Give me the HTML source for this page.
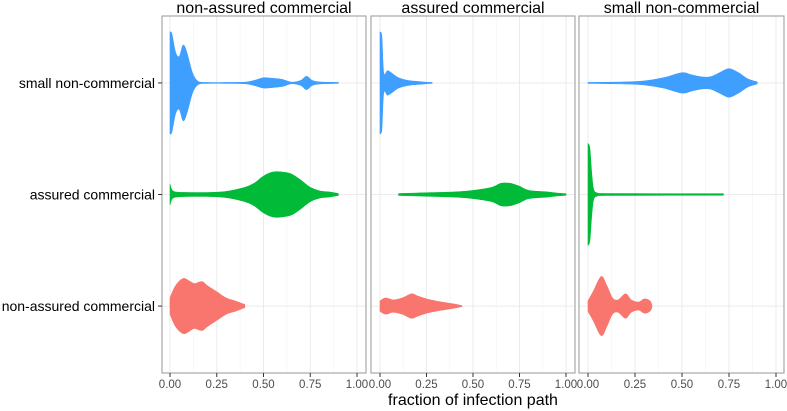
<!DOCTYPE html>
<html><head><meta charset="utf-8">
<style>
html,body{margin:0;padding:0;background:#fff;}
svg{display:block;font-family:"Liberation Sans",Arial,sans-serif;}
</style></head>
<body>
<svg id="chart" width="787" height="411" viewBox="0 0 787 411" xmlns="http://www.w3.org/2000/svg"></svg>
<script>
const panelTitles = ["non-assured commercial","assured commercial","small non-commercial"];
const categories = ["non-assured commercial","assured commercial","small non-commercial"];
const colors = ["#F8766D","#00BA38","#3F9FFF"];
const xTicks = [0,0.25,0.5,0.75,1];
const xTickLabels = ["0.00","0.25","0.50","0.75","1.00"];
// violin profiles: [x positions], [relative half-widths 0..1]
const p1RedX = [0,0.03,0.07,0.1,0.13,0.17,0.2,0.25,0.3,0.35,0.4];
const p1RedW = [0.16,0.4,0.54,0.5,0.44,0.48,0.4,0.28,0.16,0.1,0.03];
const p1GreenX = [0,0.02,0.1,0.2,0.3,0.4,0.45,0.5,0.55,0.6,0.65,0.7,0.75,0.8,0.85,0.9];
const p1GreenW = [0.2,0.06,0.04,0.04,0.06,0.14,0.22,0.36,0.44,0.44,0.4,0.28,0.14,0.07,0.05,0.02];
const p1BlueX = [0,0.01,0.03,0.05,0.07,0.09,0.12,0.15,0.2,0.3,0.4,0.45,0.5,0.55,0.6,0.65,0.7,0.73,0.76,0.8,0.9];
const p1BlueW = [1,0.96,0.6,0.52,0.74,0.6,0.2,0.03,0.01,0.01,0.015,0.05,0.1,0.09,0.07,0.015,0.05,0.13,0.05,0.02,0.01];
const p2RedX = [0,0.03,0.07,0.12,0.17,0.2,0.25,0.3,0.4,0.44];
const p2RedW = [0.1,0.16,0.12,0.16,0.24,0.2,0.14,0.1,0.04,0.01];
const p2GreenX = [0.1,0.2,0.4,0.5,0.6,0.65,0.7,0.75,0.8,0.9,0.95,1.0];
const p2GreenW = [0.02,0.03,0.05,0.08,0.14,0.22,0.22,0.16,0.08,0.05,0.03,0.015];
const p2BlueX = [0,0.01,0.02,0.04,0.06,0.1,0.15,0.2,0.25,0.28];
const p2BlueW = [1,0.9,0.2,0.24,0.2,0.1,0.05,0.03,0.015,0.01];
const p3RedX = [0,0.03,0.07,0.1,0.13,0.16,0.2,0.23,0.27,0.3,0.33,0.34];
const p3RedW = [0.1,0.3,0.58,0.4,0.16,0.12,0.24,0.12,0.08,0.14,0.1,0.02];
const p3GreenX = [0,0.01,0.02,0.03,0.05,0.1,0.72];
const p3GreenW = [1,0.9,0.4,0.1,0.03,0.02,0.015];
const p3BlueX = [0,0.2,0.3,0.4,0.5,0.55,0.6,0.65,0.7,0.75,0.8,0.85,0.9];
const p3BlueW = [0.01,0.02,0.04,0.1,0.2,0.16,0.12,0.12,0.2,0.28,0.2,0.08,0.02];
const violinX = [[p1RedX,p1GreenX,p1BlueX],[p2RedX,p2GreenX,p2BlueX],[p3RedX,p3GreenX,p3BlueX]];
const violinW = [[p1RedW,p1GreenW,p1BlueW],[p2RedW,p2GreenW,p2BlueW],[p3RedW,p3GreenW,p3BlueW]];

const NS="http://www.w3.org/2000/svg";
const svg=document.getElementById('chart');
function mk(tag,attrs,parent){const e=document.createElementNS(NS,tag);for(const k in attrs)e.setAttribute(k,attrs[k]);(parent||svg).appendChild(e);return e;}
const panels=[{l:162,r:366,x0:170,x1:357},{l:371,r:575,x0:380,x1:566},{l:579,r:784,x0:588,x1:776}];
const plotTop=16,plotBottom=373;
function yScale(i){
  const pos=i+1; return plotBottom-(pos-0.4)/3.2*(plotBottom-plotTop);
}
const maxHalf=51;
function smooth(pts){
  let d='M'+pts[0][0].toFixed(1)+','+pts[0][1].toFixed(1);
  for(let i=0;i<pts.length-1;i++){
    const p0=pts[Math.max(0,i-1)],p1=pts[i],p2=pts[i+1],p3=pts[Math.min(pts.length-1,i+2)];
    const c1=[p1[0]+(p2[0]-p0[0])/6,p1[1]+(p2[1]-p0[1])/6];
    const c2=[p2[0]-(p3[0]-p1[0])/6,p2[1]-(p3[1]-p1[1])/6];
    d+=' C'+c1[0].toFixed(1)+','+c1[1].toFixed(1)+' '+c2[0].toFixed(1)+','+c2[1].toFixed(1)+' '+p2[0].toFixed(1)+','+p2[1].toFixed(1);
  }
  return d;
}
panels.forEach((p,pi)=>{
  const xs=v=>p.x0+v*(p.x1-p.x0);
  const g=mk('g',{});
  
  
  [0.125,0.375,0.625,0.875].forEach(v=>{const l=mk('line',{x1:xs(v),x2:xs(v),y1:plotTop,y2:plotBottom,stroke:'#f4f4f4','stroke-width':0.6},g);});
  xTicks.forEach(v=>{const l=mk('line',{x1:xs(v),x2:xs(v),y1:plotTop,y2:plotBottom,stroke:'#ebebeb','stroke-width':1},g);});
  categories.forEach((c,ci)=>{const l=mk('line',{x1:p.l,x2:p.r,y1:yScale(ci),y2:yScale(ci),stroke:'#ebebeb','stroke-width':1},g);});
  categories.forEach((c,ci)=>{
    const X=violinX[pi][ci],W=violinW[pi][ci],yc=yScale(ci);
    const upper=X.map((x,k)=>[xs(x),yc-W[k]*maxHalf]);
    const lower=X.map((x,k)=>[xs(x),yc+W[k]*maxHalf]).reverse();
    let d=smooth(upper)+' L'+lower[0][0].toFixed(1)+','+lower[0][1].toFixed(1)+' '+smooth(lower).slice(1).replace(/^[^C]*/,'')+'Z';
    const v=mk('path',{d:d,fill:colors[ci],'stroke':colors[ci],'stroke-width':0.6,'stroke-linejoin':'round'},g);
    
    
  });
  const b=mk('rect',{x:p.l,y:plotTop,width:p.r-p.l,height:plotBottom-plotTop,fill:'none',stroke:'#a8a8a8','stroke-width':1.2},g);
  
  const t=mk('text',{x:(p.l+p.r)/2,y:13,'text-anchor':'middle','font-size':16,fill:'#000'},g);
  t.textContent=panelTitles[pi];
  
  xTicks.forEach((v,ti)=>{
    const tk=mk('line',{x1:xs(v),x2:xs(v),y1:plotBottom,y2:plotBottom+4,stroke:'#333','stroke-width':1},g);
    
    const tl=mk('text',{x:xs(v),y:plotBottom+15,'text-anchor':'middle','font-size':11.5,fill:'#4d4d4d'},g);
    tl.textContent=xTickLabels[ti];
    
  });
});
categories.forEach((c,ci)=>{
  const tk=mk('line',{x1:158,x2:162,y1:yScale(ci),y2:yScale(ci),stroke:'#333','stroke-width':1});
  
  const tl=mk('text',{x:155,y:yScale(ci)+5,'text-anchor':'end','font-size':14,fill:'#000'});
  tl.textContent=c;
  
});
const xt=mk('text',{x:473,y:405,'text-anchor':'middle','font-size':16,fill:'#000'});
xt.textContent='fraction of infection path';


</script>
</body></html>
